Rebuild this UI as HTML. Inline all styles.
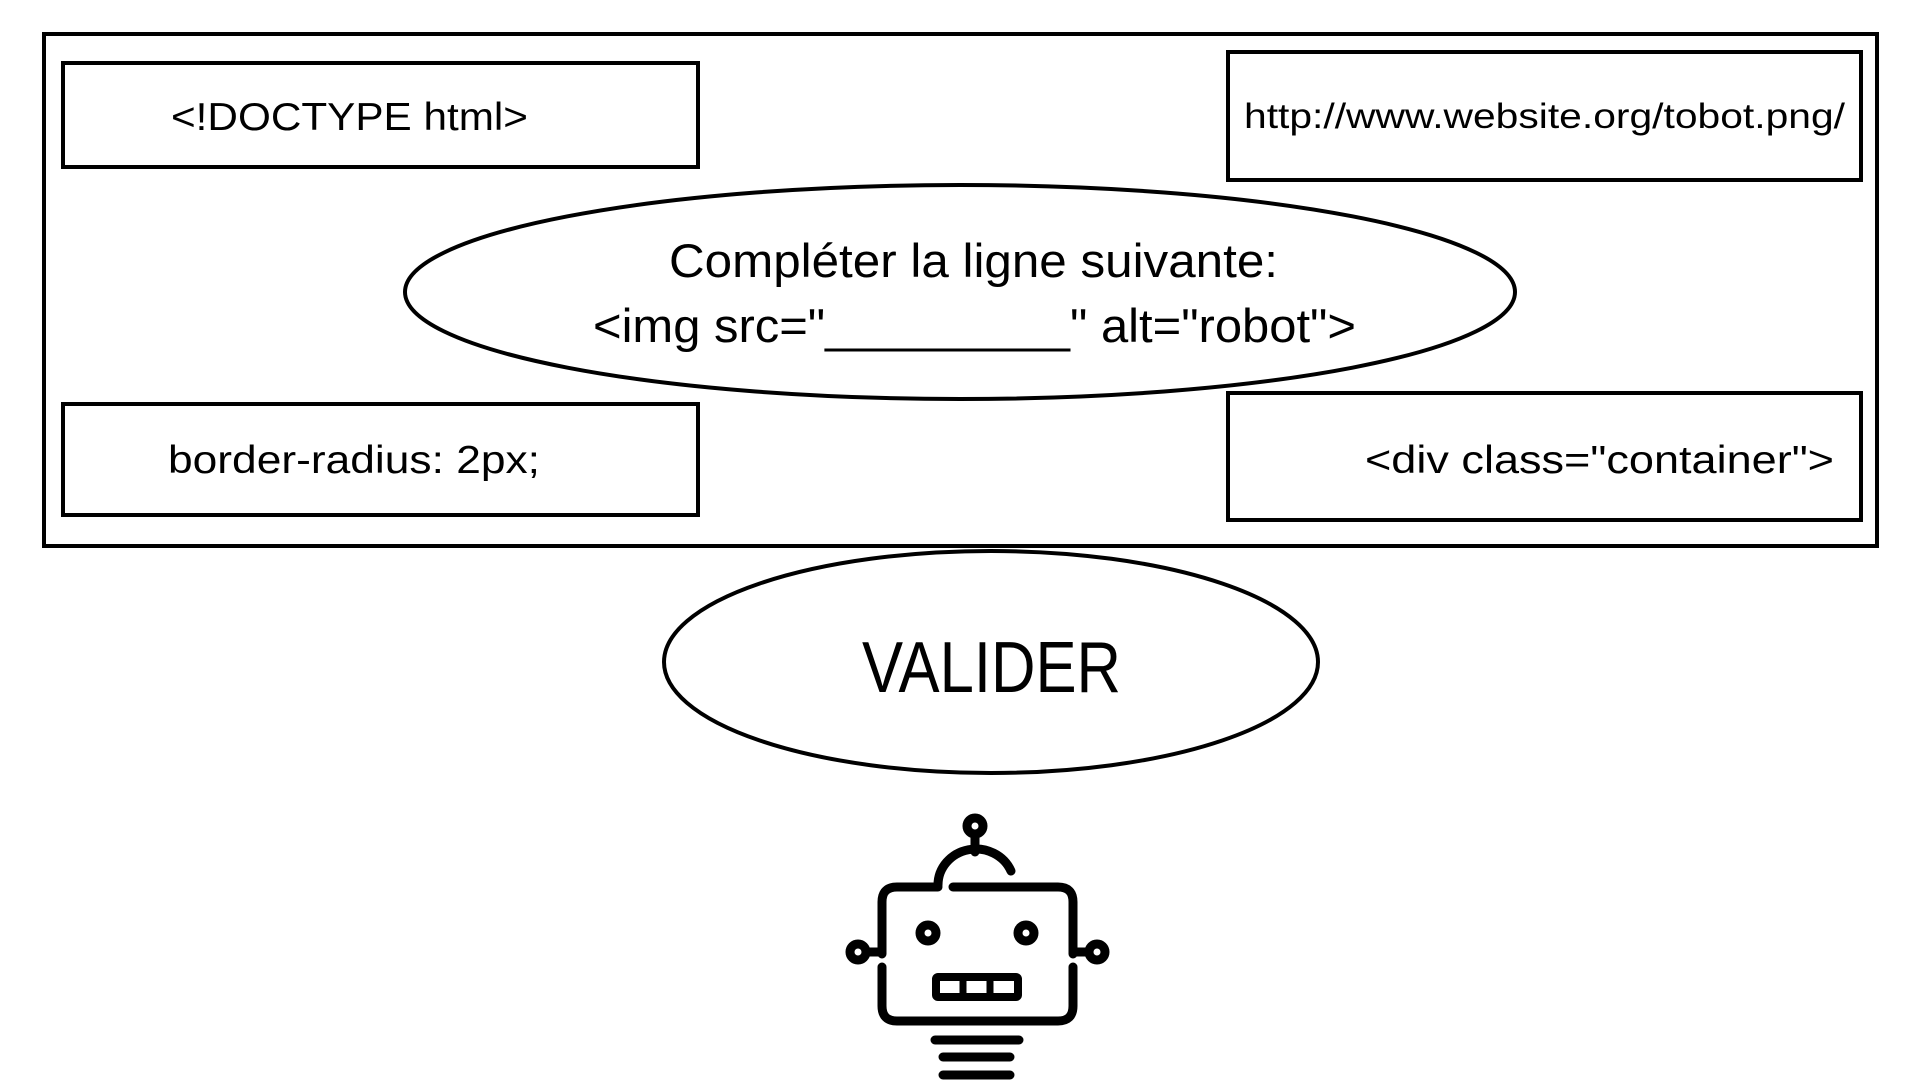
<!DOCTYPE html>
<html><head><meta charset="utf-8"><style>html,body{margin:0;padding:0;background:#fff;width:1920px;height:1080px;overflow:hidden}</style></head>
<body>
<svg width="1920" height="1080" viewBox="0 0 1920 1080" xmlns="http://www.w3.org/2000/svg" font-family="'Liberation Sans', sans-serif" fill="#000">
<rect x="44" y="34" width="1833" height="512" fill="none" stroke="#000" stroke-width="4"/>
<rect x="63" y="63" width="635" height="104" fill="none" stroke="#000" stroke-width="4"/>
<rect x="1228" y="52" width="633" height="128" fill="none" stroke="#000" stroke-width="4"/>
<rect x="63" y="404" width="635" height="111" fill="none" stroke="#000" stroke-width="4"/>
<rect x="1228" y="393" width="633" height="127" fill="none" stroke="#000" stroke-width="4"/>
<ellipse cx="960" cy="292" rx="555" ry="107" fill="#fff" stroke="#000" stroke-width="4"/>
<ellipse cx="991" cy="662" rx="327" ry="111" fill="#fff" stroke="#000" stroke-width="4"/>
<text x="171" y="130" font-size="39" textLength="357" lengthAdjust="spacingAndGlyphs">&lt;!DOCTYPE html&gt;</text>
<text x="1244" y="128" font-size="35" textLength="601" lengthAdjust="spacingAndGlyphs">http://www.website.org/tobot.png/</text>
<text x="168" y="473" font-size="39" textLength="372" lengthAdjust="spacingAndGlyphs">border-radius: 2px;</text>
<text x="1365" y="473" font-size="39" textLength="469" lengthAdjust="spacingAndGlyphs">&lt;div class="container"&gt;</text>
<text x="669" y="277" font-size="47" textLength="609" lengthAdjust="spacingAndGlyphs">Compléter la ligne suivante:</text>
<text x="593" y="342" font-size="47" textLength="763" lengthAdjust="spacingAndGlyphs">&lt;img src="_________" alt="robot"&gt;</text>
<text x="862" y="692" font-size="72" textLength="259" lengthAdjust="spacingAndGlyphs">VALIDER</text>
<g fill="none" stroke="#000" stroke-width="9" stroke-linecap="round">
<path d="M938 887 H897 Q882 887 882 902 V954"/>
<path d="M953 887 H1058 Q1073 887 1073 902 V954"/>
<path d="M882 967 V1006 Q882 1021 897 1021 H1058 Q1073 1021 1073 1006 V967"/>
<path d="M866 952 H882 M1073 952 H1089"/>
<circle cx="858" cy="952" r="8"/>
<circle cx="1097" cy="952" r="8"/>
<circle cx="928" cy="933" r="8"/>
<circle cx="1026" cy="933" r="8"/>
<circle cx="975" cy="826" r="8"/>
<path d="M975 834 V852"/>
<path d="M938 885 A38 36 0 0 1 1011 871"/>
<rect x="936" y="977" width="82" height="20" rx="2" stroke-width="8"/>
<path d="M963 977 V997 M990 977 V997" stroke-width="7"/>
<path d="M935 1040 H1019 M943 1057 H1010 M943 1075 H1010" stroke-width="9"/>
</g>
</svg>
</body></html>
